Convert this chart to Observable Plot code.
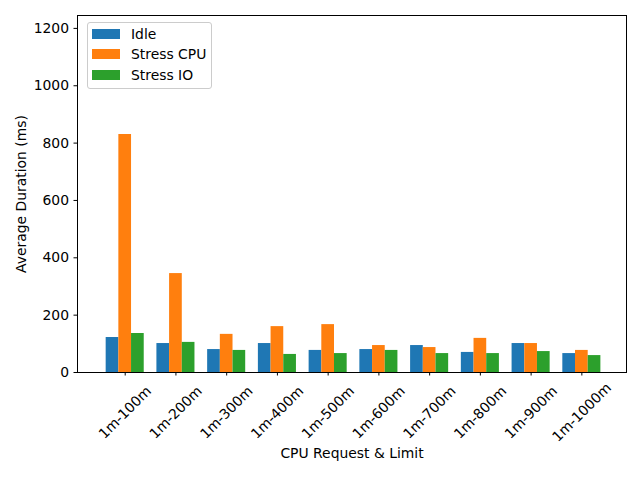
<!DOCTYPE html>
<html>
<head>
<meta charset="utf-8">
<script src="https://cdn.jsdelivr.net/npm/d3@7"></script>
<script src="https://cdn.jsdelivr.net/npm/@observablehq/plot@0.6"></script>
<style>
  body { margin: 0; background: white; }
  #wrap { position: relative; width: 640px; height: 480px; font-family: "DejaVu Sans", sans-serif; }
  #legend { position: absolute; left: 87px; top: 22px; width: 123px; height: 65px; border: 1px solid #cccccc; border-radius: 3px; background: rgba(255,255,255,0.8); font-size: 13.9px; }
  .row { position: absolute; left: 4px; height: 14px; display: flex; align-items: center; }
  .sw { width: 28px; height: 10px; margin-right: 11px; }
</style>
</head>
<body>
<div id="wrap"></div>
<script>
const cats = ["1m-100m","1m-200m","1m-300m","1m-400m","1m-500m","1m-600m","1m-700m","1m-800m","1m-900m","1m-1000m"];
const seriesNames = ["Idle", "Stress CPU", "Stress IO"];
const colors = ["#1f77b4", "#ff7f0e", "#2ca02c"];
const idle = [122, 101, 80, 101, 77, 80, 94, 70, 101, 66];
const stressCpu = [830, 345, 133, 160, 167, 94, 87, 119, 101, 77];
const stressIo = [136, 105, 77, 63, 66, 77, 66, 66, 73, 59];
const yTicks = [0, 200, 400, 600, 800, 1000, 1200];

const barW = 0.25;
const rows = [];
[idle, stressCpu, stressIo].forEach((vals, s) => {
  vals.forEach((v, i) => rows.push({i, s, series: seriesNames[s], value: v}));
});

const chart = Plot.plot({
  width: 640,
  height: 480,
  marginLeft: 77,
  marginRight: 14,
  marginTop: 15,
  marginBottom: 108,
  style: {fontFamily: "DejaVu Sans, sans-serif", fontSize: "13.9px", color: "black", background: "white"},
  x: {domain: [-0.94, 9.88], label: null},
  y: {domain: [0, 1245], label: null},
  color: {domain: seriesNames, range: colors},
  marks: [
    Plot.rectY(rows, {
      x1: d => d.i + (d.s - 1) * barW - barW / 2,
      x2: d => d.i + (d.s - 1) * barW + barW / 2,
      y1: 0,
      y2: "value",
      fill: "series"
    }),
    Plot.frame({stroke: "black", strokeWidth: 1}),
    Plot.axisY({ticks: yTicks, tickFormat: d => String(d), tickSize: 3.5, tickPadding: 5, label: null, strokeWidth: 1}),
    Plot.axisX({ticks: d3.range(cats.length), tickSize: 3.5, text: null, label: null}),
    Plot.text(cats, {x: (d, i) => i, text: d => d, frameAnchor: "bottom", dy: 40, rotate: -45, textAnchor: "middle", lineAnchor: "middle"}),
    Plot.text(["CPU Request & Limit"], {text: d => d, frameAnchor: "bottom", dy: 85, textAnchor: "middle"}),
    Plot.text(["Average Duration (ms)"], {text: d => d, frameAnchor: "left", dx: -56, rotate: -90, textAnchor: "middle"})
  ]
});

const wrap = document.getElementById("wrap");
wrap.appendChild(chart);
const legend = document.createElement("div");
legend.id = "legend";
const rowTops = [4, 24, 45];
seriesNames.forEach((name, k) => {
  const r = document.createElement("div");
  r.className = "row";
  r.style.top = rowTops[k] + "px";
  const sw = document.createElement("div");
  sw.className = "sw";
  sw.style.background = colors[k];
  const t = document.createElement("span");
  t.textContent = name;
  r.appendChild(sw);
  r.appendChild(t);
  legend.appendChild(r);
});
wrap.appendChild(legend);
</script>
</body>
</html>
